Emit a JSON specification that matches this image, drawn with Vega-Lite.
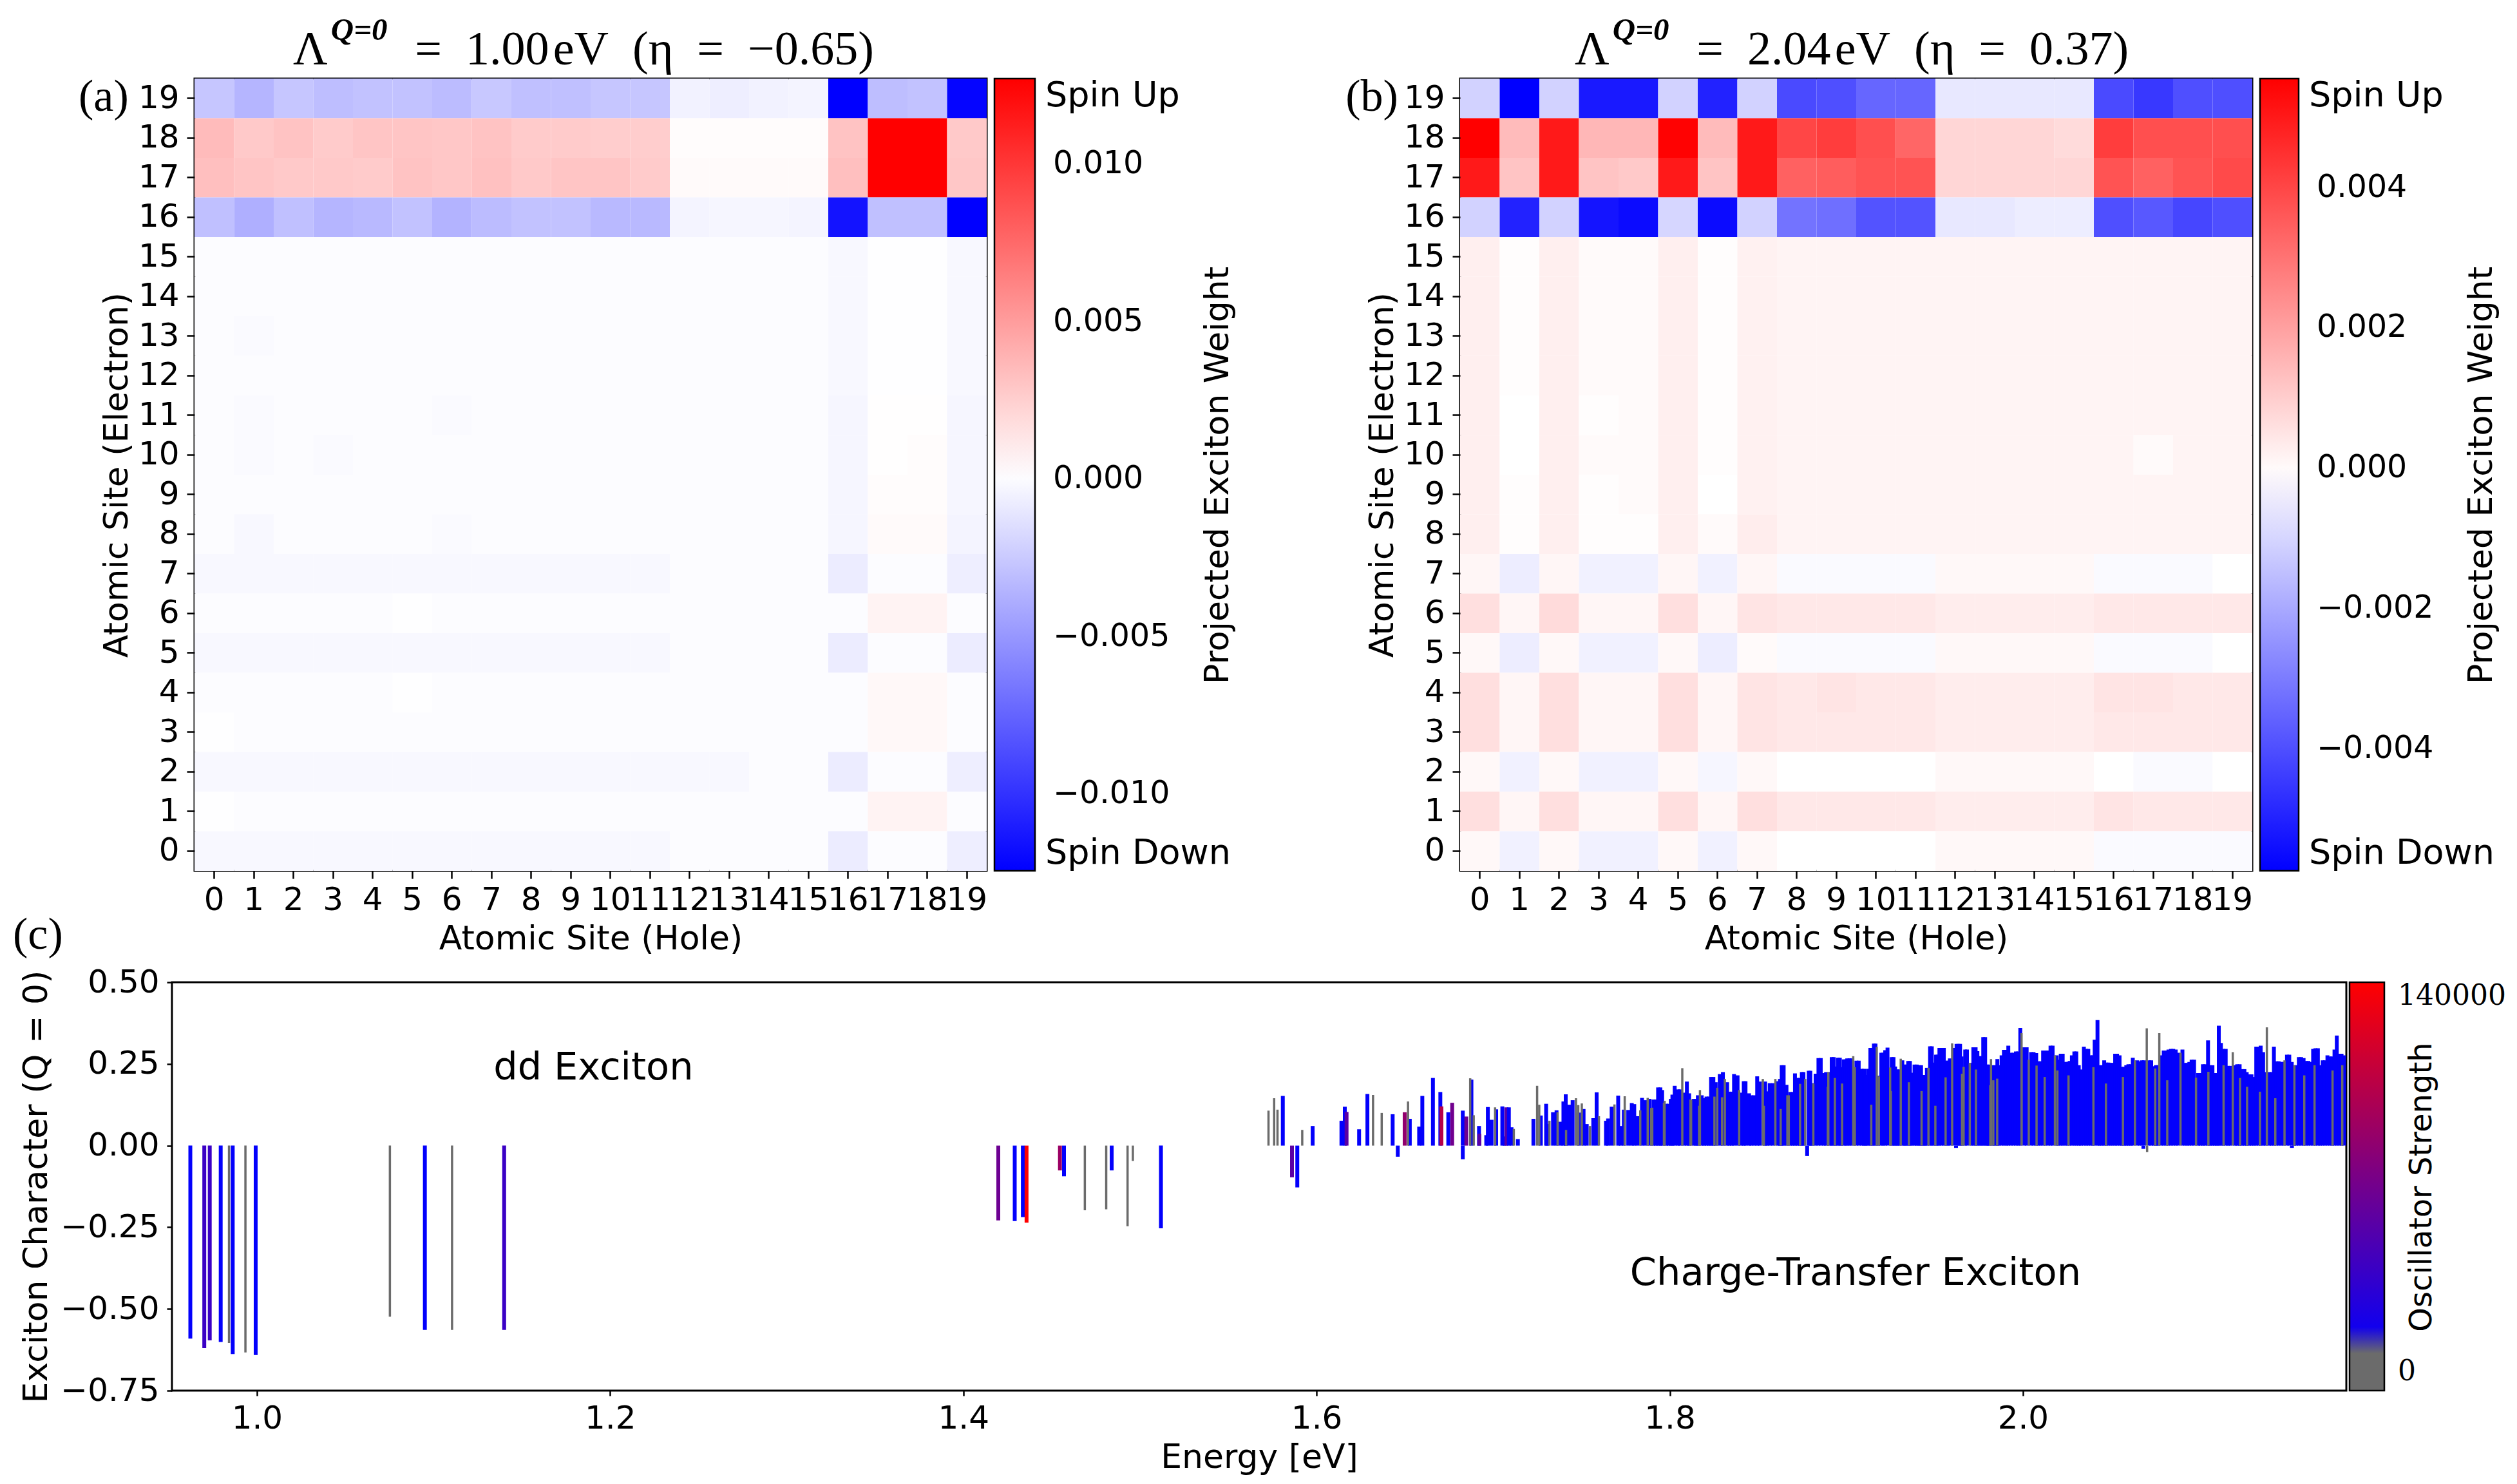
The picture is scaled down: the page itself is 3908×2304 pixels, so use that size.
{
"$schema":"https://vega.github.io/schema/vega-lite/v6.json",
"background":"white",
"padding":{"left":18,"top":21,"right":0,"bottom":0},
"config":{
"font":"DejaVu Sans",
"view":{"stroke":"black","strokeWidth":3},
"axis":{"labelFontSize":50,"titleFontSize":52,"titleFontWeight":"normal","labelColor":"black","titleColor":"black","tickColor":"black","tickWidth":2.5,"domain":false,"grid":false,"labelOverlap":false,"labelFlush":false},
"legend":{"labelFontSize":50,"titleFontSize":52,"titleFontWeight":"normal","labelColor":"black","titleColor":"black","gradientStrokeColor":"black","gradientStrokeWidth":2.5,"padding":0,"labelLimit":0,"titleLimit":0,"labelOverlap":false},
"title":{"font":"Liberation Serif","fontSize":74,"fontWeight":"normal","color":"black","subtitleColor":"black"}
},
"datasets":{
"ha":[
{"x":0,"y":19,"v":-0.0027},{"x":1,"y":19,"v":-0.0035},{"x":2,"y":19,"v":-0.0027},{"x":3,"y":19,"v":-0.0031},{"x":4,"y":19,"v":-0.0029},{"x":5,"y":19,"v":-0.0029},{"x":6,"y":19,"v":-0.0032},{"x":7,"y":19,"v":-0.0026},{"x":8,"y":19,"v":-0.003},{"x":9,"y":19,"v":-0.003},{"x":10,"y":19,"v":-0.0027},{"x":11,"y":19,"v":-0.0027},{"x":12,"y":19,"v":-0.0005},{"x":13,"y":19,"v":-0.0007},{"x":14,"y":19,"v":-0.0005},{"x":15,"y":19,"v":-0.0004},{"x":16,"y":19,"v":-0.0135},{"x":17,"y":19,"v":-0.0031},{"x":18,"y":19,"v":-0.0029},{"x":19,"y":19,"v":-0.0122},
{"x":0,"y":18,"v":0.0035},{"x":1,"y":18,"v":0.0028},{"x":2,"y":18,"v":0.0031},{"x":3,"y":18,"v":0.0027},{"x":4,"y":18,"v":0.003},{"x":5,"y":18,"v":0.003},{"x":6,"y":18,"v":0.0029},{"x":7,"y":18,"v":0.0031},{"x":8,"y":18,"v":0.0027},{"x":9,"y":18,"v":0.0027},{"x":10,"y":18,"v":0.0026},{"x":11,"y":18,"v":0.0026},{"x":12,"y":18,"v":0.0003},{"x":13,"y":18,"v":0.0003},{"x":14,"y":18,"v":0.0003},{"x":15,"y":18,"v":0.0003},{"x":16,"y":18,"v":0.0031},{"x":17,"y":18,"v":0.0135},{"x":18,"y":18,"v":0.0135},{"x":19,"y":18,"v":0.0028},
{"x":0,"y":17,"v":0.0033},{"x":1,"y":17,"v":0.003},{"x":2,"y":17,"v":0.0028},{"x":3,"y":17,"v":0.0028},{"x":4,"y":17,"v":0.0027},{"x":5,"y":17,"v":0.0031},{"x":6,"y":17,"v":0.0029},{"x":7,"y":17,"v":0.0032},{"x":8,"y":17,"v":0.0028},{"x":9,"y":17,"v":0.003},{"x":10,"y":17,"v":0.003},{"x":11,"y":17,"v":0.0027},{"x":12,"y":17,"v":0.0004},{"x":13,"y":17,"v":0.0004},{"x":14,"y":17,"v":0.0004},{"x":15,"y":17,"v":0.0004},{"x":16,"y":17,"v":0.0033},{"x":17,"y":17,"v":0.0135},{"x":18,"y":17,"v":0.0135},{"x":19,"y":17,"v":0.0029},
{"x":0,"y":16,"v":-0.003},{"x":1,"y":16,"v":-0.0038},{"x":2,"y":16,"v":-0.003},{"x":3,"y":16,"v":-0.0035},{"x":4,"y":16,"v":-0.0033},{"x":5,"y":16,"v":-0.0029},{"x":6,"y":16,"v":-0.0036},{"x":7,"y":16,"v":-0.0032},{"x":8,"y":16,"v":-0.0029},{"x":9,"y":16,"v":-0.0029},{"x":10,"y":16,"v":-0.0033},{"x":11,"y":16,"v":-0.0033},{"x":12,"y":16,"v":-0.0004},{"x":13,"y":16,"v":-0.0003},{"x":14,"y":16,"v":-0.0003},{"x":15,"y":16,"v":-0.0004},{"x":16,"y":16,"v":-0.0115},{"x":17,"y":16,"v":-0.003},{"x":18,"y":16,"v":-0.003},{"x":19,"y":16,"v":-0.0135},
{"x":0,"y":15,"v":0},{"x":1,"y":15,"v":0},{"x":2,"y":15,"v":0},{"x":3,"y":15,"v":0},{"x":4,"y":15,"v":0},{"x":5,"y":15,"v":0},{"x":6,"y":15,"v":0},{"x":7,"y":15,"v":0},{"x":8,"y":15,"v":0},{"x":9,"y":15,"v":0},{"x":10,"y":15,"v":0},{"x":11,"y":15,"v":0},{"x":12,"y":15,"v":0},{"x":13,"y":15,"v":0},{"x":14,"y":15,"v":0},{"x":15,"y":15,"v":0},{"x":16,"y":15,"v":-0.0002},{"x":17,"y":15,"v":0.0001},{"x":18,"y":15,"v":0.0001},{"x":19,"y":15,"v":-0.0002},
{"x":0,"y":14,"v":0},{"x":1,"y":14,"v":0},{"x":2,"y":14,"v":0},{"x":3,"y":14,"v":0},{"x":4,"y":14,"v":0},{"x":5,"y":14,"v":0},{"x":6,"y":14,"v":0},{"x":7,"y":14,"v":0},{"x":8,"y":14,"v":0},{"x":9,"y":14,"v":0},{"x":10,"y":14,"v":0},{"x":11,"y":14,"v":0},{"x":12,"y":14,"v":0},{"x":13,"y":14,"v":0},{"x":14,"y":14,"v":0},{"x":15,"y":14,"v":0},{"x":16,"y":14,"v":-0.0002},{"x":17,"y":14,"v":0.0001},{"x":18,"y":14,"v":0.0001},{"x":19,"y":14,"v":-0.0002},
{"x":0,"y":13,"v":0},{"x":1,"y":13,"v":-0.0001},{"x":2,"y":13,"v":0},{"x":3,"y":13,"v":0},{"x":4,"y":13,"v":0},{"x":5,"y":13,"v":0},{"x":6,"y":13,"v":0},{"x":7,"y":13,"v":0},{"x":8,"y":13,"v":0},{"x":9,"y":13,"v":0},{"x":10,"y":13,"v":0},{"x":11,"y":13,"v":0},{"x":12,"y":13,"v":0},{"x":13,"y":13,"v":0},{"x":14,"y":13,"v":0},{"x":15,"y":13,"v":0},{"x":16,"y":13,"v":-0.0002},{"x":17,"y":13,"v":0.0001},{"x":18,"y":13,"v":0.0001},{"x":19,"y":13,"v":-0.0002},
{"x":0,"y":12,"v":0},{"x":1,"y":12,"v":0},{"x":2,"y":12,"v":0},{"x":3,"y":12,"v":0},{"x":4,"y":12,"v":0},{"x":5,"y":12,"v":0},{"x":6,"y":12,"v":0},{"x":7,"y":12,"v":0},{"x":8,"y":12,"v":0},{"x":9,"y":12,"v":0},{"x":10,"y":12,"v":0},{"x":11,"y":12,"v":0},{"x":12,"y":12,"v":0},{"x":13,"y":12,"v":0},{"x":14,"y":12,"v":0},{"x":15,"y":12,"v":0},{"x":16,"y":12,"v":-0.0002},{"x":17,"y":12,"v":0.0001},{"x":18,"y":12,"v":0.0001},{"x":19,"y":12,"v":-0.0002},
{"x":0,"y":11,"v":0},{"x":1,"y":11,"v":-0.0001},{"x":2,"y":11,"v":0},{"x":3,"y":11,"v":0},{"x":4,"y":11,"v":0},{"x":5,"y":11,"v":0},{"x":6,"y":11,"v":-0.0001},{"x":7,"y":11,"v":0},{"x":8,"y":11,"v":0},{"x":9,"y":11,"v":0},{"x":10,"y":11,"v":0},{"x":11,"y":11,"v":0},{"x":12,"y":11,"v":0},{"x":13,"y":11,"v":0},{"x":14,"y":11,"v":0},{"x":15,"y":11,"v":0},{"x":16,"y":11,"v":-0.0003},{"x":17,"y":11,"v":0.0002},{"x":18,"y":11,"v":0.0002},{"x":19,"y":11,"v":-0.0003},
{"x":0,"y":10,"v":0},{"x":1,"y":10,"v":-0.0001},{"x":2,"y":10,"v":0},{"x":3,"y":10,"v":-0.0001},{"x":4,"y":10,"v":0},{"x":5,"y":10,"v":0},{"x":6,"y":10,"v":0},{"x":7,"y":10,"v":0},{"x":8,"y":10,"v":0},{"x":9,"y":10,"v":0},{"x":10,"y":10,"v":0},{"x":11,"y":10,"v":0},{"x":12,"y":10,"v":0},{"x":13,"y":10,"v":0},{"x":14,"y":10,"v":0},{"x":15,"y":10,"v":0},{"x":16,"y":10,"v":-0.0003},{"x":17,"y":10,"v":0.0002},{"x":18,"y":10,"v":0.0003},{"x":19,"y":10,"v":-0.0003},
{"x":0,"y":9,"v":0},{"x":1,"y":9,"v":0},{"x":2,"y":9,"v":0},{"x":3,"y":9,"v":0},{"x":4,"y":9,"v":0},{"x":5,"y":9,"v":0},{"x":6,"y":9,"v":0},{"x":7,"y":9,"v":0},{"x":8,"y":9,"v":0},{"x":9,"y":9,"v":0},{"x":10,"y":9,"v":0},{"x":11,"y":9,"v":0},{"x":12,"y":9,"v":0},{"x":13,"y":9,"v":0},{"x":14,"y":9,"v":0},{"x":15,"y":9,"v":0},{"x":16,"y":9,"v":-0.0003},{"x":17,"y":9,"v":0.0003},{"x":18,"y":9,"v":0.0003},{"x":19,"y":9,"v":-0.0003},
{"x":0,"y":8,"v":0},{"x":1,"y":8,"v":-0.0002},{"x":2,"y":8,"v":0},{"x":3,"y":8,"v":0},{"x":4,"y":8,"v":0},{"x":5,"y":8,"v":0},{"x":6,"y":8,"v":-0.0001},{"x":7,"y":8,"v":0},{"x":8,"y":8,"v":0},{"x":9,"y":8,"v":0},{"x":10,"y":8,"v":0},{"x":11,"y":8,"v":0},{"x":12,"y":8,"v":0},{"x":13,"y":8,"v":0},{"x":14,"y":8,"v":0},{"x":15,"y":8,"v":0},{"x":16,"y":8,"v":-0.0003},{"x":17,"y":8,"v":0.0004},{"x":18,"y":8,"v":0.0004},{"x":19,"y":8,"v":-0.0004},
{"x":0,"y":7,"v":-0.0002},{"x":1,"y":7,"v":-0.0002},{"x":2,"y":7,"v":-0.0002},{"x":3,"y":7,"v":-0.0002},{"x":4,"y":7,"v":-0.0002},{"x":5,"y":7,"v":-0.0002},{"x":6,"y":7,"v":-0.0002},{"x":7,"y":7,"v":-0.0002},{"x":8,"y":7,"v":-0.0002},{"x":9,"y":7,"v":-0.0002},{"x":10,"y":7,"v":-0.0002},{"x":11,"y":7,"v":-0.0002},{"x":12,"y":7,"v":0},{"x":13,"y":7,"v":0},{"x":14,"y":7,"v":0},{"x":15,"y":7,"v":0},{"x":16,"y":7,"v":-0.0008},{"x":17,"y":7,"v":0},{"x":18,"y":7,"v":0},{"x":19,"y":7,"v":-0.0007},
{"x":0,"y":6,"v":0},{"x":1,"y":6,"v":0},{"x":2,"y":6,"v":0},{"x":3,"y":6,"v":0},{"x":4,"y":6,"v":0},{"x":5,"y":6,"v":0.0001},{"x":6,"y":6,"v":0},{"x":7,"y":6,"v":0},{"x":8,"y":6,"v":0},{"x":9,"y":6,"v":0},{"x":10,"y":6,"v":0},{"x":11,"y":6,"v":0},{"x":12,"y":6,"v":0},{"x":13,"y":6,"v":0},{"x":14,"y":6,"v":0},{"x":15,"y":6,"v":0},{"x":16,"y":6,"v":0},{"x":17,"y":6,"v":0.0007},{"x":18,"y":6,"v":0.0007},{"x":19,"y":6,"v":0},
{"x":0,"y":5,"v":-0.0002},{"x":1,"y":5,"v":-0.0002},{"x":2,"y":5,"v":-0.0002},{"x":3,"y":5,"v":-0.0002},{"x":4,"y":5,"v":-0.0002},{"x":5,"y":5,"v":-0.0002},{"x":6,"y":5,"v":-0.0002},{"x":7,"y":5,"v":-0.0002},{"x":8,"y":5,"v":-0.0002},{"x":9,"y":5,"v":-0.0002},{"x":10,"y":5,"v":-0.0002},{"x":11,"y":5,"v":-0.0002},{"x":12,"y":5,"v":0},{"x":13,"y":5,"v":0},{"x":14,"y":5,"v":0},{"x":15,"y":5,"v":0},{"x":16,"y":5,"v":-0.0008},{"x":17,"y":5,"v":0},{"x":18,"y":5,"v":0},{"x":19,"y":5,"v":-0.0008},
{"x":0,"y":4,"v":0},{"x":1,"y":4,"v":0},{"x":2,"y":4,"v":0},{"x":3,"y":4,"v":0},{"x":4,"y":4,"v":0},{"x":5,"y":4,"v":0.0001},{"x":6,"y":4,"v":0},{"x":7,"y":4,"v":0},{"x":8,"y":4,"v":0},{"x":9,"y":4,"v":0},{"x":10,"y":4,"v":0},{"x":11,"y":4,"v":0},{"x":12,"y":4,"v":0},{"x":13,"y":4,"v":0},{"x":14,"y":4,"v":0},{"x":15,"y":4,"v":0},{"x":16,"y":4,"v":0},{"x":17,"y":4,"v":0.0005},{"x":18,"y":4,"v":0.0005},{"x":19,"y":4,"v":0},
{"x":0,"y":3,"v":0.0001},{"x":1,"y":3,"v":0},{"x":2,"y":3,"v":0},{"x":3,"y":3,"v":0},{"x":4,"y":3,"v":0},{"x":5,"y":3,"v":0},{"x":6,"y":3,"v":0},{"x":7,"y":3,"v":0},{"x":8,"y":3,"v":0},{"x":9,"y":3,"v":0},{"x":10,"y":3,"v":0},{"x":11,"y":3,"v":0},{"x":12,"y":3,"v":0},{"x":13,"y":3,"v":0},{"x":14,"y":3,"v":0},{"x":15,"y":3,"v":0},{"x":16,"y":3,"v":0},{"x":17,"y":3,"v":0.0005},{"x":18,"y":3,"v":0.0005},{"x":19,"y":3,"v":0},
{"x":0,"y":2,"v":-0.0002},{"x":1,"y":2,"v":-0.0002},{"x":2,"y":2,"v":-0.0002},{"x":3,"y":2,"v":-0.0002},{"x":4,"y":2,"v":-0.0002},{"x":5,"y":2,"v":-0.0002},{"x":6,"y":2,"v":-0.0002},{"x":7,"y":2,"v":-0.0002},{"x":8,"y":2,"v":-0.0002},{"x":9,"y":2,"v":-0.0002},{"x":10,"y":2,"v":-0.0002},{"x":11,"y":2,"v":-0.0002},{"x":12,"y":2,"v":-0.0002},{"x":13,"y":2,"v":-0.0002},{"x":14,"y":2,"v":0},{"x":15,"y":2,"v":0},{"x":16,"y":2,"v":-0.0008},{"x":17,"y":2,"v":0},{"x":18,"y":2,"v":0},{"x":19,"y":2,"v":-0.0007},
{"x":0,"y":1,"v":0.0001},{"x":1,"y":1,"v":0},{"x":2,"y":1,"v":0},{"x":3,"y":1,"v":0},{"x":4,"y":1,"v":0},{"x":5,"y":1,"v":0},{"x":6,"y":1,"v":0},{"x":7,"y":1,"v":0},{"x":8,"y":1,"v":0},{"x":9,"y":1,"v":0},{"x":10,"y":1,"v":0},{"x":11,"y":1,"v":0},{"x":12,"y":1,"v":0},{"x":13,"y":1,"v":0},{"x":14,"y":1,"v":0},{"x":15,"y":1,"v":0},{"x":16,"y":1,"v":0},{"x":17,"y":1,"v":0.0007},{"x":18,"y":1,"v":0.0007},{"x":19,"y":1,"v":0},
{"x":0,"y":0,"v":-0.0002},{"x":1,"y":0,"v":-0.0002},{"x":2,"y":0,"v":-0.0002},{"x":3,"y":0,"v":-0.0002},{"x":4,"y":0,"v":-0.0002},{"x":5,"y":0,"v":-0.0002},{"x":6,"y":0,"v":-0.0002},{"x":7,"y":0,"v":-0.0002},{"x":8,"y":0,"v":-0.0002},{"x":9,"y":0,"v":-0.0002},{"x":10,"y":0,"v":-0.0002},{"x":11,"y":0,"v":-0.0002},{"x":12,"y":0,"v":0},{"x":13,"y":0,"v":0},{"x":14,"y":0,"v":0},{"x":15,"y":0,"v":0},{"x":16,"y":0,"v":-0.0008},{"x":17,"y":0,"v":0},{"x":18,"y":0,"v":0},{"x":19,"y":0,"v":-0.0007}
],
"hb":[
{"x":0,"y":19,"v":-0.0011},{"x":1,"y":19,"v":-0.006},{"x":2,"y":19,"v":-0.0011},{"x":3,"y":19,"v":-0.0052},{"x":4,"y":19,"v":-0.0052},{"x":5,"y":19,"v":-0.0011},{"x":6,"y":19,"v":-0.005},{"x":7,"y":19,"v":-0.0011},{"x":8,"y":19,"v":-0.0041},{"x":9,"y":19,"v":-0.004},{"x":10,"y":19,"v":-0.0035},{"x":11,"y":19,"v":-0.0035},{"x":12,"y":19,"v":-0.0006},{"x":13,"y":19,"v":-0.0006},{"x":14,"y":19,"v":-0.0006},{"x":15,"y":19,"v":-0.0006},{"x":16,"y":19,"v":-0.0041},{"x":17,"y":19,"v":-0.0045},{"x":18,"y":19,"v":-0.004},{"x":19,"y":19,"v":-0.004},
{"x":0,"y":18,"v":0.0058},{"x":1,"y":18,"v":0.0014},{"x":2,"y":18,"v":0.005},{"x":3,"y":18,"v":0.0015},{"x":4,"y":18,"v":0.0015},{"x":5,"y":18,"v":0.0055},{"x":6,"y":18,"v":0.0014},{"x":7,"y":18,"v":0.005},{"x":8,"y":18,"v":0.004},{"x":9,"y":18,"v":0.0042},{"x":10,"y":18,"v":0.0038},{"x":11,"y":18,"v":0.0033},{"x":12,"y":18,"v":0.0008},{"x":13,"y":18,"v":0.0008},{"x":14,"y":18,"v":0.0008},{"x":15,"y":18,"v":0.0007},{"x":16,"y":18,"v":0.0042},{"x":17,"y":18,"v":0.0038},{"x":18,"y":18,"v":0.0038},{"x":19,"y":18,"v":0.0038},
{"x":0,"y":17,"v":0.005},{"x":1,"y":17,"v":0.0012},{"x":2,"y":17,"v":0.005},{"x":3,"y":17,"v":0.0012},{"x":4,"y":17,"v":0.0011},{"x":5,"y":17,"v":0.005},{"x":6,"y":17,"v":0.0012},{"x":7,"y":17,"v":0.005},{"x":8,"y":17,"v":0.0034},{"x":9,"y":17,"v":0.0035},{"x":10,"y":17,"v":0.0037},{"x":11,"y":17,"v":0.0037},{"x":12,"y":17,"v":0.0008},{"x":13,"y":17,"v":0.0008},{"x":14,"y":17,"v":0.0008},{"x":15,"y":17,"v":0.0008},{"x":16,"y":17,"v":0.0037},{"x":17,"y":17,"v":0.0034},{"x":18,"y":17,"v":0.0037},{"x":19,"y":17,"v":0.0039},
{"x":0,"y":16,"v":-0.0011},{"x":1,"y":16,"v":-0.005},{"x":2,"y":16,"v":-0.0011},{"x":3,"y":16,"v":-0.0053},{"x":4,"y":16,"v":-0.0055},{"x":5,"y":16,"v":-0.001},{"x":6,"y":16,"v":-0.0055},{"x":7,"y":16,"v":-0.0011},{"x":8,"y":16,"v":-0.0032},{"x":9,"y":16,"v":-0.0033},{"x":10,"y":16,"v":-0.0039},{"x":11,"y":16,"v":-0.0039},{"x":12,"y":16,"v":-0.0006},{"x":13,"y":16,"v":-0.0006},{"x":14,"y":16,"v":-0.0005},{"x":15,"y":16,"v":-0.0005},{"x":16,"y":16,"v":-0.004},{"x":17,"y":16,"v":-0.0038},{"x":18,"y":16,"v":-0.0042},{"x":19,"y":16,"v":-0.004},
{"x":0,"y":15,"v":0.00025},{"x":1,"y":15,"v":-0.00005},{"x":2,"y":15,"v":0.00025},{"x":3,"y":15,"v":0},{"x":4,"y":15,"v":0},{"x":5,"y":15,"v":0.00025},{"x":6,"y":15,"v":-0.00005},{"x":7,"y":15,"v":0.0002},{"x":8,"y":15,"v":0.00015},{"x":9,"y":15,"v":0.00015},{"x":10,"y":15,"v":0.00015},{"x":11,"y":15,"v":0.00015},{"x":12,"y":15,"v":0.00015},{"x":13,"y":15,"v":0.00015},{"x":14,"y":15,"v":0.00015},{"x":15,"y":15,"v":0.00015},{"x":16,"y":15,"v":0.00015},{"x":17,"y":15,"v":0.00015},{"x":18,"y":15,"v":0.00015},{"x":19,"y":15,"v":0.00015},
{"x":0,"y":14,"v":0.00025},{"x":1,"y":14,"v":-0.00005},{"x":2,"y":14,"v":0.00025},{"x":3,"y":14,"v":0},{"x":4,"y":14,"v":0},{"x":5,"y":14,"v":0.00025},{"x":6,"y":14,"v":-0.00005},{"x":7,"y":14,"v":0.0002},{"x":8,"y":14,"v":0.00015},{"x":9,"y":14,"v":0.00015},{"x":10,"y":14,"v":0.00015},{"x":11,"y":14,"v":0.00015},{"x":12,"y":14,"v":0.00015},{"x":13,"y":14,"v":0.00015},{"x":14,"y":14,"v":0.00015},{"x":15,"y":14,"v":0.00015},{"x":16,"y":14,"v":0.00015},{"x":17,"y":14,"v":0.00015},{"x":18,"y":14,"v":0.00015},{"x":19,"y":14,"v":0.00015},
{"x":0,"y":13,"v":0.00025},{"x":1,"y":13,"v":-0.00005},{"x":2,"y":13,"v":0.00025},{"x":3,"y":13,"v":0},{"x":4,"y":13,"v":0},{"x":5,"y":13,"v":0.00025},{"x":6,"y":13,"v":-0.00005},{"x":7,"y":13,"v":0.0002},{"x":8,"y":13,"v":0.00015},{"x":9,"y":13,"v":0.00015},{"x":10,"y":13,"v":0.00015},{"x":11,"y":13,"v":0.00015},{"x":12,"y":13,"v":0.00015},{"x":13,"y":13,"v":0.00015},{"x":14,"y":13,"v":0.00015},{"x":15,"y":13,"v":0.00015},{"x":16,"y":13,"v":0.00015},{"x":17,"y":13,"v":0.00015},{"x":18,"y":13,"v":0.00015},{"x":19,"y":13,"v":0.00015},
{"x":0,"y":12,"v":0.00025},{"x":1,"y":12,"v":-0.00005},{"x":2,"y":12,"v":0.00025},{"x":3,"y":12,"v":0},{"x":4,"y":12,"v":0},{"x":5,"y":12,"v":0.00025},{"x":6,"y":12,"v":-0.00005},{"x":7,"y":12,"v":0.0002},{"x":8,"y":12,"v":0.00015},{"x":9,"y":12,"v":0.00015},{"x":10,"y":12,"v":0.00015},{"x":11,"y":12,"v":0.00015},{"x":12,"y":12,"v":0.00015},{"x":13,"y":12,"v":0.00015},{"x":14,"y":12,"v":0.00015},{"x":15,"y":12,"v":0.00015},{"x":16,"y":12,"v":0.00015},{"x":17,"y":12,"v":0.00015},{"x":18,"y":12,"v":0.00015},{"x":19,"y":12,"v":0.00015},
{"x":0,"y":11,"v":0.00025},{"x":1,"y":11,"v":-0.0001},{"x":2,"y":11,"v":0.00025},{"x":3,"y":11,"v":-0.00005},{"x":4,"y":11,"v":0},{"x":5,"y":11,"v":0.00025},{"x":6,"y":11,"v":-0.00005},{"x":7,"y":11,"v":0.0002},{"x":8,"y":11,"v":0.00015},{"x":9,"y":11,"v":0.00015},{"x":10,"y":11,"v":0.00015},{"x":11,"y":11,"v":0.00015},{"x":12,"y":11,"v":0.00015},{"x":13,"y":11,"v":0.00015},{"x":14,"y":11,"v":0.00015},{"x":15,"y":11,"v":0.00015},{"x":16,"y":11,"v":0.00015},{"x":17,"y":11,"v":0.00015},{"x":18,"y":11,"v":0.00015},{"x":19,"y":11,"v":0.00015},
{"x":0,"y":10,"v":0.00025},{"x":1,"y":10,"v":-0.0001},{"x":2,"y":10,"v":0.00025},{"x":3,"y":10,"v":0},{"x":4,"y":10,"v":0},{"x":5,"y":10,"v":0.00025},{"x":6,"y":10,"v":-0.00005},{"x":7,"y":10,"v":0.0002},{"x":8,"y":10,"v":0.00015},{"x":9,"y":10,"v":0.00015},{"x":10,"y":10,"v":0.00015},{"x":11,"y":10,"v":0.00015},{"x":12,"y":10,"v":0.00015},{"x":13,"y":10,"v":0.00015},{"x":14,"y":10,"v":0.00015},{"x":15,"y":10,"v":0.00015},{"x":16,"y":10,"v":0.00015},{"x":17,"y":10,"v":0},{"x":18,"y":10,"v":0.00015},{"x":19,"y":10,"v":0.00015},
{"x":0,"y":9,"v":0.00025},{"x":1,"y":9,"v":-0.00005},{"x":2,"y":9,"v":0.00025},{"x":3,"y":9,"v":-0.00005},{"x":4,"y":9,"v":0},{"x":5,"y":9,"v":0.00025},{"x":6,"y":9,"v":-0.0001},{"x":7,"y":9,"v":0.0002},{"x":8,"y":9,"v":0.00015},{"x":9,"y":9,"v":0.00015},{"x":10,"y":9,"v":0.00015},{"x":11,"y":9,"v":0.00015},{"x":12,"y":9,"v":0.00015},{"x":13,"y":9,"v":0.00015},{"x":14,"y":9,"v":0.00015},{"x":15,"y":9,"v":0.00015},{"x":16,"y":9,"v":0.00015},{"x":17,"y":9,"v":0.00015},{"x":18,"y":9,"v":0.00015},{"x":19,"y":9,"v":0.00015},
{"x":0,"y":8,"v":0.00025},{"x":1,"y":8,"v":-0.00005},{"x":2,"y":8,"v":0.00025},{"x":3,"y":8,"v":-0.00005},{"x":4,"y":8,"v":-0.00005},{"x":5,"y":8,"v":0.00025},{"x":6,"y":8,"v":0},{"x":7,"y":8,"v":0.0003},{"x":8,"y":8,"v":0.00015},{"x":9,"y":8,"v":0.00015},{"x":10,"y":8,"v":0.00015},{"x":11,"y":8,"v":0.00015},{"x":12,"y":8,"v":0.00015},{"x":13,"y":8,"v":0.00015},{"x":14,"y":8,"v":0.00015},{"x":15,"y":8,"v":0.00015},{"x":16,"y":8,"v":0.00015},{"x":17,"y":8,"v":0.00015},{"x":18,"y":8,"v":0.00015},{"x":19,"y":8,"v":0.00015},
{"x":0,"y":7,"v":0.0001},{"x":1,"y":7,"v":-0.0005},{"x":2,"y":7,"v":0.0001},{"x":3,"y":7,"v":-0.0004},{"x":4,"y":7,"v":-0.0004},{"x":5,"y":7,"v":0.0001},{"x":6,"y":7,"v":-0.0004},{"x":7,"y":7,"v":0.0001},{"x":8,"y":7,"v":-0.0002},{"x":9,"y":7,"v":-0.0002},{"x":10,"y":7,"v":-0.0002},{"x":11,"y":7,"v":-0.0002},{"x":12,"y":7,"v":0.00005},{"x":13,"y":7,"v":0.00005},{"x":14,"y":7,"v":0.00005},{"x":15,"y":7,"v":0.00005},{"x":16,"y":7,"v":-0.0002},{"x":17,"y":7,"v":-0.0002},{"x":18,"y":7,"v":-0.0002},{"x":19,"y":7,"v":-0.0001},
{"x":0,"y":6,"v":0.0006},{"x":1,"y":6,"v":0.0001},{"x":2,"y":6,"v":0.0007},{"x":3,"y":6,"v":0.0001},{"x":4,"y":6,"v":0.0001},{"x":5,"y":6,"v":0.0006},{"x":6,"y":6,"v":0.0001},{"x":7,"y":6,"v":0.0005},{"x":8,"y":6,"v":0.0004},{"x":9,"y":6,"v":0.0004},{"x":10,"y":6,"v":0.0004},{"x":11,"y":6,"v":0.0004},{"x":12,"y":6,"v":0.0003},{"x":13,"y":6,"v":0.0003},{"x":14,"y":6,"v":0.0003},{"x":15,"y":6,"v":0.0003},{"x":16,"y":6,"v":0.0004},{"x":17,"y":6,"v":0.0004},{"x":18,"y":6,"v":0.0004},{"x":19,"y":6,"v":0.0004},
{"x":0,"y":5,"v":0.00005},{"x":1,"y":5,"v":-0.0005},{"x":2,"y":5,"v":0.00005},{"x":3,"y":5,"v":-0.0004},{"x":4,"y":5,"v":-0.0004},{"x":5,"y":5,"v":0.00005},{"x":6,"y":5,"v":-0.0005},{"x":7,"y":5,"v":0},{"x":8,"y":5,"v":-0.0002},{"x":9,"y":5,"v":-0.0002},{"x":10,"y":5,"v":-0.0002},{"x":11,"y":5,"v":-0.0002},{"x":12,"y":5,"v":0.00005},{"x":13,"y":5,"v":0.00005},{"x":14,"y":5,"v":0.00005},{"x":15,"y":5,"v":0.00005},{"x":16,"y":5,"v":-0.0002},{"x":17,"y":5,"v":-0.0002},{"x":18,"y":5,"v":-0.0002},{"x":19,"y":5,"v":-0.0001},
{"x":0,"y":4,"v":0.0006},{"x":1,"y":4,"v":0.0001},{"x":2,"y":4,"v":0.0006},{"x":3,"y":4,"v":0.0001},{"x":4,"y":4,"v":0.0001},{"x":5,"y":4,"v":0.0006},{"x":6,"y":4,"v":0.0001},{"x":7,"y":4,"v":0.0005},{"x":8,"y":4,"v":0.0004},{"x":9,"y":4,"v":0.0005},{"x":10,"y":4,"v":0.0004},{"x":11,"y":4,"v":0.0004},{"x":12,"y":4,"v":0.0003},{"x":13,"y":4,"v":0.0003},{"x":14,"y":4,"v":0.0003},{"x":15,"y":4,"v":0.0003},{"x":16,"y":4,"v":0.0005},{"x":17,"y":4,"v":0.0005},{"x":18,"y":4,"v":0.0004},{"x":19,"y":4,"v":0.0004},
{"x":0,"y":3,"v":0.0006},{"x":1,"y":3,"v":0.0001},{"x":2,"y":3,"v":0.0006},{"x":3,"y":3,"v":0.0001},{"x":4,"y":3,"v":0.0001},{"x":5,"y":3,"v":0.0006},{"x":6,"y":3,"v":0.0001},{"x":7,"y":3,"v":0.0005},{"x":8,"y":3,"v":0.0004},{"x":9,"y":3,"v":0.0004},{"x":10,"y":3,"v":0.0004},{"x":11,"y":3,"v":0.0004},{"x":12,"y":3,"v":0.0003},{"x":13,"y":3,"v":0.0003},{"x":14,"y":3,"v":0.0003},{"x":15,"y":3,"v":0.0003},{"x":16,"y":3,"v":0.0004},{"x":17,"y":3,"v":0.0004},{"x":18,"y":3,"v":0.0004},{"x":19,"y":3,"v":0.0004},
{"x":0,"y":2,"v":0.00005},{"x":1,"y":2,"v":-0.0004},{"x":2,"y":2,"v":0.00005},{"x":3,"y":2,"v":-0.0004},{"x":4,"y":2,"v":-0.0004},{"x":5,"y":2,"v":0.00005},{"x":6,"y":2,"v":-0.0003},{"x":7,"y":2,"v":0.00005},{"x":8,"y":2,"v":-0.0001},{"x":9,"y":2,"v":-0.0001},{"x":10,"y":2,"v":-0.0001},{"x":11,"y":2,"v":-0.0001},{"x":12,"y":2,"v":0.00005},{"x":13,"y":2,"v":0.00005},{"x":14,"y":2,"v":0.00005},{"x":15,"y":2,"v":0.00005},{"x":16,"y":2,"v":-0.0001},{"x":17,"y":2,"v":-0.0002},{"x":18,"y":2,"v":-0.0002},{"x":19,"y":2,"v":-0.0001},
{"x":0,"y":1,"v":0.0006},{"x":1,"y":1,"v":0.0001},{"x":2,"y":1,"v":0.0006},{"x":3,"y":1,"v":0.0001},{"x":4,"y":1,"v":0.0001},{"x":5,"y":1,"v":0.0006},{"x":6,"y":1,"v":0.0001},{"x":7,"y":1,"v":0.0006},{"x":8,"y":1,"v":0.0004},{"x":9,"y":1,"v":0.0004},{"x":10,"y":1,"v":0.0004},{"x":11,"y":1,"v":0.0004},{"x":12,"y":1,"v":0.0003},{"x":13,"y":1,"v":0.0003},{"x":14,"y":1,"v":0.0003},{"x":15,"y":1,"v":0.0003},{"x":16,"y":1,"v":0.0005},{"x":17,"y":1,"v":0.0004},{"x":18,"y":1,"v":0.0004},{"x":19,"y":1,"v":0.0004},
{"x":0,"y":0,"v":0.00005},{"x":1,"y":0,"v":-0.0004},{"x":2,"y":0,"v":0.00005},{"x":3,"y":0,"v":-0.0004},{"x":4,"y":0,"v":-0.0004},{"x":5,"y":0,"v":0.00005},{"x":6,"y":0,"v":-0.0004},{"x":7,"y":0,"v":0.00005},{"x":8,"y":0,"v":-0.0001},{"x":9,"y":0,"v":-0.0001},{"x":10,"y":0,"v":-0.0001},{"x":11,"y":0,"v":-0.0001},{"x":12,"y":0,"v":0.00005},{"x":13,"y":0,"v":0.00005},{"x":14,"y":0,"v":0.00005},{"x":15,"y":0,"v":0.00005},{"x":16,"y":0,"v":-0.0002},{"x":17,"y":0,"v":-0.0002},{"x":18,"y":0,"v":-0.0002},{"x":19,"y":0,"v":-0.0002}
],
"bars":[
{"e":0.9623,"c":-0.591,"os":1500},{"e":0.9702,"c":-0.62,"os":32000},{"e":0.9733,"c":-0.596,"os":32000},{"e":0.9795,"c":-0.601,"os":1500},{"e":0.9842,"c":-0.604,"os":0},{"e":0.9863,"c":-0.638,"os":1500},{"e":0.9935,"c":-0.633,"os":0},{"e":0.9993,"c":-0.641,"os":1500},{"e":1.0753,"c":-0.524,"os":0},{"e":1.0951,"c":-0.564,"os":1500},{"e":1.1105,"c":-0.564,"os":0},{"e":1.14,"c":-0.564,"os":32000},
{"e":1.4198,"c":-0.229,"os":60000},{"e":1.4291,"c":-0.231,"os":1500},{"e":1.4337,"c":-0.219,"os":1500},{"e":1.4358,"c":-0.236,"os":140000},{"e":1.4547,"c":-0.076,"os":85000},{"e":1.457,"c":-0.094,"os":1500},{"e":1.4688,"c":-0.198,"os":0},{"e":1.4809,"c":-0.195,"os":0},{"e":1.484,"c":-0.076,"os":1500},{"e":1.493,"c":-0.247,"os":0},{"e":1.496,"c":-0.047,"os":0},{"e":1.5119,"c":-0.253,"os":1500},
{"e":1.5728,"c":0.107,"os":0},{"e":1.576,"c":0.145,"os":0},{"e":1.5779,"c":0.11,"os":0},{"e":1.5809,"c":0.152,"os":1500},{"e":1.5861,"c":-0.097,"os":50000},{"e":1.5891,"c":-0.128,"os":1500},{"e":1.5919,"c":0.048,"os":0},{"e":1.5978,"c":0.06,"os":1500},{"e":1.6141,"c":0.076,"os":1500},{"e":1.616,"c":0.119,"os":1500},{"e":1.617,"c":0.103,"os":50000},{"e":1.6241,"c":0.05,"os":1500},{"e":1.6288,"c":0.158,"os":1500},{"e":1.632,"c":0.155,"os":0},{"e":1.6369,"c":0.1,"os":0},{"e":1.6431,"c":0.096,"os":1500},{"e":1.646,"c":-0.034,"os":1500},{"e":1.6499,"c":0.102,"os":80000},{"e":1.6518,"c":0.135,"os":0},{"e":1.6528,"c":0.082,"os":1500},{"e":1.6581,"c":0.058,"os":1500},{"e":1.6599,"c":0.152,"os":1500},{"e":1.6659,"c":0.207,"os":1500},{"e":1.6701,"c":0.164,"os":1500},{"e":1.6707,"c":0.12,"os":100000},{"e":1.6746,"c":0.102,"os":1500},{"e":1.6768,"c":0.131,"os":62000},{"e":1.6828,"c":0.107,"os":1500},{"e":1.6828,"c":-0.042,"os":1500},{"e":1.6848,"c":0.089,"os":60000},{"e":1.687,"c":0.206,"os":0},{"e":1.6877,"c":0.202,"os":1500},{"e":1.689,"c":0.093,"os":0},{"e":1.692,"c":0.06,"os":1500},{"e":1.6922,"c":0.036,"os":50000},{"e":1.6961,"c":0.032,"os":1500},{"e":1.697,"c":0.118,"os":1500},{"e":1.6991,"c":0.079,"os":1500},{"e":1.7011,"c":0.117,"os":0},{"e":1.7017,"c":0.111,"os":1500},{"e":1.7052,"c":0.12,"os":1500},{"e":1.7065,"c":0.028,"os":1500},{"e":1.7075,"c":0.117,"os":50000},{"e":1.7089,"c":0.117,"os":1500},{"e":1.7104,"c":0.056,"os":1500},{"e":1.7117,"c":0.051,"os":0},{"e":1.714,"c":0.02,"os":1500},
{"e":1.7228,"c":0.082,"os":1500},{"e":1.7249,"c":0.183,"os":0},{"e":1.7261,"c":0.125,"os":0},{"e":1.727,"c":0.092,"os":1500},{"e":1.73,"c":0.128,"os":1500},{"e":1.7306,"c":0.066,"os":1500},{"e":1.7319,"c":0.076,"os":0},{"e":1.7339,"c":0.102,"os":1500},{"e":1.7359,"c":0.108,"os":1500},{"e":1.7365,"c":0.102,"os":0},{"e":1.7382,"c":0.073,"os":1500},{"e":1.7398,"c":0.135,"os":1500},{"e":1.7411,"c":0.157,"os":1500},{"e":1.7413,"c":0.048,"os":0},{"e":1.743,"c":0.125,"os":1500},{"e":1.745,"c":0.139,"os":1500},{"e":1.7469,"c":0.145,"os":0},{"e":1.7482,"c":0.124,"os":0},{"e":1.7486,"c":0.101,"os":1500},{"e":1.7502,"c":0.129,"os":0},{"e":1.7512,"c":0.112,"os":1500},{"e":1.753,"c":0.066,"os":1500},{"e":1.7548,"c":0.06,"os":0},{"e":1.7567,"c":0.084,"os":1500},{"e":1.7586,"c":0.163,"os":1500},{"e":1.7599,"c":0.09,"os":0},{"e":1.7639,"c":0.076,"os":1500},{"e":1.7651,"c":0.083,"os":1500},{"e":1.7671,"c":0.119,"os":1500},{"e":1.7687,"c":0.126,"os":0},{"e":1.7708,"c":0.153,"os":1500},{"e":1.7723,"c":0.06,"os":1500},{"e":1.774,"c":0.11,"os":1500},{"e":1.7745,"c":0.151,"os":0},{"e":1.7765,"c":0.109,"os":1500},{"e":1.7785,"c":0.13,"os":1500},{"e":1.7799,"c":0.127,"os":1500},
{"e":1.7817,"c":0.09,"os":1500},{"e":1.7833,"c":0.108,"os":0},{"e":1.7843,"c":0.146,"os":1500},{"e":1.7862,"c":0.139,"os":1500},{"e":1.7875,"c":0.146,"os":0},{"e":1.7885,"c":0.143,"os":1500},{"e":1.7895,"c":0.115,"os":0},{"e":1.7901,"c":0.116,"os":0},{"e":1.7908,"c":0.141,"os":1500},{"e":1.7921,"c":0.141,"os":1500},{"e":1.7934,"c":0.178,"os":1500},{"e":1.7947,"c":0.178,"os":1500},{"e":1.7957,"c":0.17,"os":1500},{"e":1.7967,"c":0.131,"os":0},{"e":1.7971,"c":0.137,"os":0},{"e":1.798,"c":0.128,"os":1500},{"e":1.7993,"c":0.128,"os":1500},{"e":1.8006,"c":0.143,"os":1500},{"e":1.8015,"c":0.156,"os":1500},{"e":1.8028,"c":0.183,"os":1500},{"e":1.8046,"c":0.172,"os":1500},{"e":1.8058,"c":0.172,"os":1500},{"e":1.8071,"c":0.237,"os":0},{"e":1.808,"c":0.162,"os":1500},{"e":1.8097,"c":0.196,"os":1500},{"e":1.811,"c":0.16,"os":1500},{"e":1.8117,"c":0.141,"os":0},{"e":1.8121,"c":0.141,"os":0},{"e":1.8136,"c":0.143,"os":1500},{"e":1.8149,"c":0.143,"os":1500},{"e":1.8159,"c":0.154,"os":1500},{"e":1.8166,"c":0.122,"os":0},{"e":1.8171,"c":0.17,"os":0},{"e":1.8181,"c":0.154,"os":1500},{"e":1.8195,"c":0.145,"os":1500},{"e":1.8208,"c":0.15,"os":1500},{"e":1.8221,"c":0.15,"os":1500},{"e":1.8234,"c":0.21,"os":1500},{"e":1.8247,"c":0.21,"os":1500},{"e":1.8253,"c":0.15,"os":0},{"e":1.826,"c":0.194,"os":1500},{"e":1.8269,"c":0.177,"os":0},{"e":1.8283,"c":0.219,"os":1500},{"e":1.8296,"c":0.148,"os":0},{"e":1.8301,"c":0.225,"os":1500},{"e":1.8312,"c":0.204,"os":0},{"e":1.8325,"c":0.194,"os":1500},{"e":1.8338,"c":0.165,"os":1500},{"e":1.8351,"c":0.165,"os":1500},{"e":1.8364,"c":0.219,"os":1500},{"e":1.8384,"c":0.215,"os":1500},{"e":1.8393,"c":0.17,"os":0},{"e":1.8403,"c":0.162,"os":1500},{"e":1.8419,"c":0.197,"os":1500},{"e":1.8429,"c":0.197,"os":1500},{"e":1.8449,"c":0.16,"os":1500},{"e":1.8462,"c":0.154,"os":1500},{"e":1.8479,"c":0.154,"os":1500},{"e":1.8495,"c":0.212,"os":1500},{"e":1.851,"c":0.196,"os":1500},{"e":1.8527,"c":0.204,"os":0},{"e":1.8533,"c":0.122,"os":0},{"e":1.854,"c":0.196,"os":1500},{"e":1.855,"c":0.166,"os":1500},{"e":1.8566,"c":0.191,"os":1500},{"e":1.8585,"c":0.191,"os":1500},{"e":1.8598,"c":0.204,"os":0},{"e":1.8611,"c":0.197,"os":1500},{"e":1.8624,"c":0.204,"os":1500},{"e":1.8628,"c":0.112,"os":0},{"e":1.8634,"c":0.246,"os":1500},{"e":1.8645,"c":0.246,"os":1500},{"e":1.8661,"c":0.186,"os":1500},{"e":1.8666,"c":0.154,"os":0},{"e":1.8674,"c":0.154,"os":0},{"e":1.8683,"c":0.164,"os":1500},{"e":1.8696,"c":0.164,"os":1500},{"e":1.8709,"c":0.221,"os":1500},{"e":1.8722,"c":0.207,"os":1500},{"e":1.8735,"c":0.207,"os":1500},{"e":1.8738,"c":0.189,"os":0},{"e":1.8748,"c":0.225,"os":1500},{"e":1.8757,"c":0.225,"os":1500},{"e":1.8767,"c":0.204,"os":0},{"e":1.8778,"c":-0.032,"os":1500},{"e":1.8787,"c":0.229,"os":1500},{"e":1.8796,"c":0.229,"os":1500},{"e":1.8807,"c":0.191,"os":1500},{"e":1.8813,"c":0.19,"os":0},{"e":1.8826,"c":0.22,"os":1500},{"e":1.8842,"c":0.268,"os":1500},{"e":1.8855,"c":0.268,"os":1500},{"e":1.8872,"c":0.222,"os":1500},{"e":1.8885,"c":0.225,"os":1500},{"e":1.8895,"c":0.18,"os":0},{"e":1.8898,"c":0.225,"os":0},{"e":1.8908,"c":0.225,"os":1500},{"e":1.8917,"c":0.271,"os":1500},{"e":1.8928,"c":0.271,"os":1500},{"e":1.8935,"c":0.207,"os":0},{"e":1.8939,"c":0.242,"os":1500},{"e":1.8952,"c":0.269,"os":1500},{"e":1.8963,"c":0.269,"os":1500},{"e":1.8972,"c":0.24,"os":1500},{"e":1.8976,"c":0.19,"os":0},{"e":1.8985,"c":0.264,"os":1500},{"e":1.8996,"c":0.264,"os":1500},{"e":1.9005,"c":0.267,"os":1500},{"e":1.9018,"c":0.267,"os":1500},{"e":1.9028,"c":0.267,"os":1500},{"e":1.9039,"c":0.274,"os":0},{"e":1.9045,"c":0.234,"os":0},{"e":1.9048,"c":0.24,"os":0},{"e":1.9057,"c":0.26,"os":1500},{"e":1.907,"c":0.26,"os":1500},{"e":1.9087,"c":0.235,"os":1500},{"e":1.91,"c":0.235,"os":1500},{"e":1.9109,"c":0.216,"os":1500},{"e":1.9122,"c":0.235,"os":1500},{"e":1.9136,"c":0.299,"os":1500},{"e":1.9141,"c":0.125,"os":0},{"e":1.9146,"c":0.299,"os":1500},{"e":1.9156,"c":0.312,"os":1500},{"e":1.9165,"c":0.312,"os":1500},{"e":1.9172,"c":0.302,"os":0},{"e":1.9181,"c":0.214,"os":1500},{"e":1.9184,"c":0.212,"os":0},{"e":1.9198,"c":0.284,"os":1500},{"e":1.9208,"c":0.284,"os":1500},{"e":1.922,"c":0.292,"os":1500},{"e":1.9233,"c":0.3,"os":1500},{"e":1.9248,"c":0.239,"os":0},{"e":1.9252,"c":0.167,"os":0},{"e":1.9257,"c":0.271,"os":1500},{"e":1.9267,"c":0.271,"os":1500},{"e":1.9276,"c":0.242,"os":1500},{"e":1.9289,"c":0.233,"os":1500},{"e":1.9299,"c":0.233,"os":1500},{"e":1.9308,"c":0.266,"os":0},{"e":1.9317,"c":0.261,"os":1500},{"e":1.9328,"c":0.248,"os":1500},{"e":1.9338,"c":0.248,"os":1500},{"e":1.935,"c":0.259,"os":1500},{"e":1.9354,"c":0.194,"os":0},{"e":1.936,"c":0.259,"os":1500},{"e":1.9369,"c":0.223,"os":1500},{"e":1.9386,"c":0.248,"os":1500},{"e":1.9399,"c":0.248,"os":1500},{"e":1.9412,"c":0.246,"os":1500},{"e":1.9423,"c":0.246,"os":1500},{"e":1.9426,"c":0.167,"os":0},{"e":1.9435,"c":0.216,"os":1500},{"e":1.9445,"c":0.216,"os":1500},{"e":1.9456,"c":0.238,"os":1500},{"e":1.9465,"c":0.238,"os":0},{"e":1.9474,"c":0.304,"os":1500},{"e":1.9484,"c":0.304,"os":1500},{"e":1.9495,"c":0.254,"os":1500},{"e":1.9504,"c":0.122,"os":0},{"e":1.9508,"c":0.278,"os":1500},{"e":1.9517,"c":0.278,"os":1500},{"e":1.9527,"c":0.299,"os":1500},{"e":1.9539,"c":0.299,"os":1500},{"e":1.9552,"c":0.299,"os":1500},{"e":1.9562,"c":0.209,"os":0},{"e":1.9565,"c":0.26,"os":1500},{"e":1.9576,"c":0.26,"os":1500},{"e":1.9586,"c":0.267,"os":1500},{"e":1.9599,"c":0.313,"os":0},{"e":1.9608,"c":0.299,"os":1500},{"e":1.9621,"c":-0.007,"os":1500},{"e":1.9624,"c":0.311,"os":1500},{"e":1.9634,"c":0.311,"os":1500},{"e":1.9644,"c":0.311,"os":1500},{"e":1.9653,"c":0.273,"os":1500},{"e":1.9655,"c":0.22,"os":0},{"e":1.9664,"c":0.241,"os":0},{"e":1.9673,"c":0.294,"os":1500},{"e":1.9683,"c":0.294,"os":1500},{"e":1.9699,"c":0.253,"os":0},{"e":1.9708,"c":0.253,"os":1500},{"e":1.9719,"c":0.301,"os":1500},{"e":1.9732,"c":0.301,"os":1500},{"e":1.9734,"c":0.233,"os":0},{"e":1.9742,"c":0.289,"os":1500},{"e":1.9754,"c":0.274,"os":1500},{"e":1.9764,"c":0.274,"os":1500},{"e":1.9775,"c":0.332,"os":1500},{"e":1.9786,"c":0.332,"os":1500},{"e":1.9797,"c":0.248,"os":1500},{"e":1.9807,"c":0.248,"os":1500},{"e":1.9815,"c":0.185,"os":0},{"e":1.9819,"c":0.265,"os":0},{"e":1.9829,"c":0.246,"os":1500},{"e":1.9832,"c":0.2,"os":0},{"e":1.9842,"c":0.246,"os":1500},{"e":1.9854,"c":0.205,"os":0},{"e":1.9855,"c":0.265,"os":1500},
{"e":1.9863,"c":0.246,"os":1500},{"e":1.9879,"c":0.276,"os":1500},{"e":1.9892,"c":0.293,"os":1500},{"e":1.9906,"c":0.293,"os":1500},{"e":1.9917,"c":0.306,"os":1500},{"e":1.9931,"c":0.284,"os":1500},{"e":1.9946,"c":0.284,"os":1500},{"e":1.996,"c":0.288,"os":1500},{"e":1.9973,"c":0.288,"os":1500},{"e":1.9985,"c":0.36,"os":1500},{"e":1.9992,"c":0.344,"os":0},{"e":2.0008,"c":0.301,"os":1500},{"e":2.0021,"c":0.301,"os":1500},{"e":2.0033,"c":0.263,"os":0},{"e":2.0046,"c":0.286,"os":1500},{"e":2.006,"c":0.286,"os":1500},{"e":2.0075,"c":0.283,"os":1500},{"e":2.0077,"c":0.245,"os":0},{"e":2.0089,"c":0.258,"os":1500},{"e":2.01,"c":0.258,"os":1500},{"e":2.0114,"c":0.291,"os":1500},{"e":2.0123,"c":0.21,"os":0},{"e":2.0127,"c":0.291,"os":1500},{"e":2.0143,"c":0.291,"os":1500},{"e":2.0156,"c":0.306,"os":1500},{"e":2.0168,"c":0.306,"os":1500},{"e":2.0181,"c":0.276,"os":0},{"e":2.0191,"c":0.276,"os":1500},{"e":2.0195,"c":0.23,"os":0},{"e":2.02,"c":0.263,"os":1500},{"e":2.0214,"c":0.281,"os":1500},{"e":2.0225,"c":0.281,"os":1500},{"e":2.0239,"c":0.256,"os":1500},{"e":2.0251,"c":0.256,"os":1500},{"e":2.0258,"c":0.215,"os":0},{"e":2.0264,"c":0.259,"os":1500},{"e":2.0277,"c":0.276,"os":1500},{"e":2.0291,"c":0.288,"os":1500},{"e":2.0302,"c":0.288,"os":1500},{"e":2.0316,"c":0.246,"os":1500},{"e":2.0329,"c":0.233,"os":1500},{"e":2.0345,"c":0.303,"os":1500},{"e":2.0358,"c":0.296,"os":1500},{"e":2.037,"c":0.296,"os":1500},{"e":2.0383,"c":0.276,"os":1500},{"e":2.0395,"c":0.276,"os":1500},{"e":2.0399,"c":0.24,"os":0},{"e":2.0406,"c":0.324,"os":1500},{"e":2.0422,"c":0.384,"os":1500},{"e":2.0433,"c":0.246,"os":1500},{"e":2.0447,"c":0.246,"os":1500},{"e":2.046,"c":0.261,"os":1500},{"e":2.047,"c":0.19,"os":0},{"e":2.0472,"c":0.254,"os":1500},{"e":2.0484,"c":0.254,"os":1500},{"e":2.0497,"c":0.253,"os":1500},{"e":2.0508,"c":0.253,"os":1500},{"e":2.0522,"c":0.281,"os":1500},{"e":2.0533,"c":0.281,"os":1500},{"e":2.0547,"c":0.276,"os":1500},{"e":2.0558,"c":0.241,"os":1500},{"e":2.0566,"c":0.21,"os":0},{"e":2.0572,"c":0.241,"os":1500},{"e":2.0585,"c":0.246,"os":1500},{"e":2.0597,"c":0.249,"os":1500},{"e":2.0611,"c":0.249,"os":1500},{"e":2.0622,"c":0.269,"os":1500},{"e":2.0634,"c":0.261,"os":0},{"e":2.0647,"c":0.261,"os":1500},{"e":2.0661,"c":0.258,"os":1500},{"e":2.0674,"c":0.261,"os":1500},{"e":2.0682,"c":-0.01,"os":1500},{"e":2.0686,"c":0.261,"os":1500},{"e":2.0701,"c":0.359,"os":0},{"e":2.0703,"c":-0.02,"os":0},{"e":2.0713,"c":0.261,"os":1500},{"e":2.0726,"c":0.261,"os":1500},{"e":2.074,"c":0.243,"os":1500},{"e":2.0749,"c":0.236,"os":0},{"e":2.0753,"c":0.246,"os":1500},{"e":2.0765,"c":0.246,"os":1500},{"e":2.0772,"c":0.344,"os":0},{"e":2.0784,"c":0.276,"os":1500},{"e":2.0797,"c":0.291,"os":1500},{"e":2.0811,"c":0.291,"os":1500},{"e":2.0817,"c":0.2,"os":0},{"e":2.0824,"c":0.294,"os":1500},{"e":2.0838,"c":0.296,"os":1500},{"e":2.0851,"c":0.296,"os":1500},{"e":2.0865,"c":0.294,"os":1500},{"e":2.0878,"c":0.284,"os":1500},{"e":2.0892,"c":0.284,"os":0},{"e":2.0903,"c":0.294,"os":1500},{"e":2.0917,"c":0.253,"os":1500},{"e":2.093,"c":0.253,"os":1500},{"e":2.0942,"c":0.256,"os":1500},{"e":2.0955,"c":0.263,"os":1500},{"e":2.0969,"c":0.263,"os":1500},{"e":2.098,"c":0.208,"os":0},{"e":2.0992,"c":0.222,"os":1500},{"e":2.1005,"c":0.222,"os":1500},{"e":2.1019,"c":0.249,"os":1500},{"e":2.1032,"c":0.249,"os":1500},{"e":2.1048,"c":0.322,"os":1500},{"e":2.105,"c":0.226,"os":0},{"e":2.1059,"c":0.246,"os":1500},{"e":2.1073,"c":0.246,"os":1500},{"e":2.1086,"c":0.222,"os":1500},{"e":2.1098,"c":0.222,"os":1500},{"e":2.1109,"c":0.367,"os":1500},{"e":2.1121,"c":0.314,"os":1500},{"e":2.1134,"c":0.296,"os":1500},{"e":2.1136,"c":0.246,"os":0},{"e":2.1148,"c":0.296,"os":1500},{"e":2.1161,"c":0.244,"os":1500},{"e":2.1175,"c":0.244,"os":1500},{"e":2.1188,"c":0.286,"os":0},{"e":2.12,"c":0.246,"os":1500},{"e":2.1213,"c":0.249,"os":1500},{"e":2.1227,"c":0.249,"os":1500},{"e":2.1229,"c":0.207,"os":0},{"e":2.124,"c":0.234,"os":1500},{"e":2.1254,"c":0.234,"os":1500},{"e":2.1267,"c":0.225,"os":1500},{"e":2.1269,"c":0.18,"os":0},{"e":2.1281,"c":0.218,"os":1500},{"e":2.1294,"c":0.218,"os":1500},{"e":2.1308,"c":0.21,"os":1500},{"e":2.1321,"c":0.303,"os":1500},{"e":2.1333,"c":0.303,"os":1500},{"e":2.1342,"c":0.165,"os":0},{"e":2.1346,"c":0.306,"os":1500},{"e":2.136,"c":0.286,"os":1500},{"e":2.1373,"c":0.225,"os":1500},{"e":2.1381,"c":0.362,"os":0},{"e":2.1394,"c":0.225,"os":1500},{"e":2.1408,"c":0.225,"os":1500},{"e":2.1421,"c":0.303,"os":1500},{"e":2.1429,"c":0.145,"os":0},{"e":2.1435,"c":0.258,"os":1500},{"e":2.1448,"c":0.258,"os":1500},{"e":2.1462,"c":0.256,"os":1500},{"e":2.1475,"c":0.256,"os":1500},{"e":2.1481,"c":0.261,"os":0},{"e":2.1495,"c":0.278,"os":1500},{"e":2.1508,"c":0.278,"os":1500},{"e":2.1522,"c":0.256,"os":1500},{"e":2.1523,"c":-0.007,"os":1500},{"e":2.1535,"c":0.246,"os":1500},{"e":2.1537,"c":0.246,"os":0},{"e":2.1548,"c":0.246,"os":1500},{"e":2.1562,"c":0.271,"os":1500},{"e":2.1575,"c":0.271,"os":1500},{"e":2.1589,"c":0.268,"os":1500},{"e":2.1593,"c":0.215,"os":0},{"e":2.1602,"c":0.259,"os":1500},{"e":2.1616,"c":0.259,"os":1500},{"e":2.1629,"c":0.256,"os":1500},{"e":2.1643,"c":0.296,"os":1500},{"e":2.1651,"c":0.246,"os":0},{"e":2.1656,"c":0.298,"os":1500},{"e":2.167,"c":0.298,"os":1500},{"e":2.1683,"c":0.246,"os":1500},{"e":2.1697,"c":0.261,"os":1500},{"e":2.171,"c":0.261,"os":1500},{"e":2.1724,"c":0.276,"os":1500},{"e":2.1737,"c":0.273,"os":1500},{"e":2.1751,"c":0.273,"os":1500},{"e":2.1753,"c":0.23,"os":0},{"e":2.1764,"c":0.294,"os":1500},{"e":2.1777,"c":0.337,"os":1500},{"e":2.1791,"c":0.281,"os":1500},{"e":2.1804,"c":0.281,"os":1500},{"e":2.1808,"c":0.246,"os":0},{"e":2.1818,"c":0.276,"os":1500}
]
},
"spacing":-70,
"resolve":{"scale":{"color":"independent"},"legend":{"color":"independent"}},
"vconcat":[
{"spacing":-2000,
"resolve":{"scale":{"color":"independent"},"legend":{"color":"independent"}},
"hconcat":[
{"width":35,"height":1,"data":{"values":[]},"mark":"point","view":{"stroke":null}},
{"spacing":168,
"resolve":{"scale":{"color":"independent"},"legend":{"color":"independent"}},
"hconcat":[
{"width":1230,"height":1230,
"title":{"text":"Λ\u00a0\u00a0\u00a0\u00a0\u00a0\u00a0\u2004=\u20021.00\u200aeV\u2002(η\u2002=\u2002−0.65)","subtitle":"\u00a0","anchor":"start","frame":"group","dx":153,"baseline":"alphabetic","offset":-160,"subtitleFont":"Liberation Serif","subtitleFontSize":49,"subtitlePadding":-103},
"layer":[
{"data":{"name":"ha"},"mark":{"type":"rect"},
"encoding":{
"x":{"field":"x","type":"ordinal","title":"Atomic Site (Hole)","axis":{"labelAngle":0,"tickSize":12,"labelPadding":8,"titlePadding":10}},
"y":{"field":"y","type":"ordinal","sort":"descending","title":"Atomic Site (Electron)","axis":{"tickSize":12,"labelPadding":12,"titlePadding":6}},
"color":{"field":"v","type":"quantitative","scale":{"domain":[-0.01245,0.00013,0.01271],"range":["#0000ff","#ffffff","#ff0000"],"interpolate":"rgb","clamp":true},
"legend":{"type":"gradient","direction":"vertical","title":"Projected Exciton Weight","gradientLength":1230,"gradientThickness":63,"offset":12,"values":[-0.01245,-0.01,-0.005,0,0.005,0.01,0.01271],"labelExpr":"datum.value > 0.0126 ? 'Spin Up' : datum.value < -0.0124 ? 'Spin Down' : format(datum.value, '.3f')","labelOffset":16,"titleOrient":"right","titlePadding":-45,
"encoding":{"title":{"angle":{"value":-90},"baseline":{"value":"top"}},"labels":{"fontSize":{"condition":{"test":"abs(datum.value) > 0.0124","value":54},"value":49},"dx":{"condition":{"test":"abs(datum.value) > 0.0124","value":0},"value":12}}}}}
}},
{"data":{"values":[{"x":0,"y":19,"t":"(a)"}]},"mark":{"type":"text","align":"right","baseline":"middle","dx":-133,"dy":-2,"font":"Liberation Serif","fontSize":70,"color":"black"},
"encoding":{"x":{"field":"x","type":"ordinal"},"y":{"field":"y","type":"ordinal","sort":"descending"},"text":{"field":"t"}}},
{"data":{"values":[{"x":0,"y":19,"t":"Q=0"}]},"mark":{"type":"text","align":"left","baseline":"alphabetic","dx":181,"dy":-91,"font":"Liberation Serif","fontSize":49,"fontWeight":"bold","fontStyle":"italic","color":"black"},
"encoding":{"x":{"field":"x","type":"ordinal"},"y":{"field":"y","type":"ordinal","sort":"descending"},"text":{"field":"t"}}}
]},
{"width":1230,"height":1230,
"title":{"text":"Λ\u00a0\u00a0\u00a0\u00a0\u00a0\u00a0\u2004=\u20022.04\u200aeV\u2002(η\u2002=\u20020.37)","subtitle":"\u00a0","anchor":"start","frame":"group","dx":178,"baseline":"alphabetic","offset":-160,"subtitleFont":"Liberation Serif","subtitleFontSize":49,"subtitlePadding":-103},
"layer":[
{"data":{"name":"hb"},"mark":{"type":"rect"},
"encoding":{
"x":{"field":"x","type":"ordinal","title":"Atomic Site (Hole)","axis":{"labelAngle":0,"tickSize":12,"labelPadding":8,"titlePadding":10}},
"y":{"field":"y","type":"ordinal","sort":"descending","title":"Atomic Site (Electron)","axis":{"tickSize":12,"labelPadding":12,"titlePadding":6}},
"color":{"field":"v","type":"quantitative","scale":{"domain":[-0.00575,-0.0001,0.00555],"range":["#0000ff","#ffffff","#ff0000"],"interpolate":"rgb","clamp":true},
"legend":{"type":"gradient","direction":"vertical","title":"Projected Exciton Weight","gradientLength":1230,"gradientThickness":60,"offset":12,"values":[-0.00575,-0.004,-0.002,0,0.002,0.004,0.00555],"labelExpr":"datum.value > 0.0055 ? 'Spin Up' : datum.value < -0.0057 ? 'Spin Down' : format(datum.value, '.3f')","labelOffset":16,"titleOrient":"right","titlePadding":-45,
"encoding":{"title":{"angle":{"value":-90},"baseline":{"value":"top"}},"labels":{"fontSize":{"condition":{"test":"datum.value > 0.0055 || datum.value < -0.0057","value":54},"value":49},"dx":{"condition":{"test":"datum.value > 0.0055 || datum.value < -0.0057","value":0},"value":12}}}}}
}},
{"data":{"values":[{"x":0,"y":19,"t":"(b)"}]},"mark":{"type":"text","align":"right","baseline":"middle","dx":-127,"dy":-2,"font":"Liberation Serif","fontSize":70,"color":"black"},
"encoding":{"x":{"field":"x","type":"ordinal"},"y":{"field":"y","type":"ordinal","sort":"descending"},"text":{"field":"t"}}},
{"data":{"values":[{"x":0,"y":19,"t":"Q=0"}]},"mark":{"type":"text","align":"left","baseline":"alphabetic","dx":206,"dy":-91,"font":"Liberation Serif","fontSize":49,"fontWeight":"bold","fontStyle":"italic","color":"black"},
"encoding":{"x":{"field":"x","type":"ordinal"},"y":{"field":"y","type":"ordinal","sort":"descending"},"text":{"field":"t"}}}
]}
]}
]},
{"width":3376,"height":634,
"layer":[
{"mark":{"type":"rule","strokeDash":[14,8],"strokeWidth":3,"color":"black"},"encoding":{"y":{"datum":0,"type":"quantitative"}}},
{"data":{"name":"bars"},"transform":[{"filter":"datum.os > 0"}],"mark":{"type":"rule","strokeWidth":6},
"encoding":{
"x":{"field":"e","type":"quantitative","scale":{"domain":[0.9519,2.1831],"nice":false,"zero":false},"title":"Energy [eV]","axis":{"values":[1.0,1.2,1.4,1.6,1.8,2.0],"format":".1f","tickSize":8,"labelPadding":10,"titlePadding":10}},
"y":{"field":"c","type":"quantitative","scale":{"domain":[-0.75,0.5],"nice":false,"zero":false},"title":"Exciton Character (Q = 0)","axis":{"values":[-0.75,-0.5,-0.25,0,0.25,0.5],"format":".2f","tickSize":8,"labelPadding":12,"titlePadding":10}},
"y2":{"datum":0},
"color":{"field":"os","type":"quantitative","title":"Oscillator Strength","scale":{"type":"linear","domain":[-14000,0,1,140000],"range":["#6b6b6b","#6b6b6b","#0000ff","#ff0000"],"interpolate":"rgb"},
"legend":{"type":"gradient","direction":"vertical","gradientLength":634,"gradientThickness":54,"offset":5,"values":[-7000,140000],"labelExpr":"datum.value < 0 ? '0' : '140000'","labelFont":"DejaVu Serif","labelFontSize":44,"labelOffset":21,"titleOrient":"right","titlePadding":-154,"titleFontSize":48,
"encoding":{"title":{"angle":{"value":-90},"baseline":{"value":"top"}}}}}
}},
{"data":{"name":"bars"},"transform":[{"filter":"datum.os == 0"}],"mark":{"type":"rule","strokeWidth":3.5},
"encoding":{
"x":{"field":"e","type":"quantitative"},
"y":{"field":"c","type":"quantitative"},
"y2":{"datum":0},
"color":{"field":"os","type":"quantitative"}
}},
{"data":{"values":[{"e":1.134,"c":0.203,"t":"dd Exciton"},{"e":1.7775,"c":-0.426,"t":"Charge-Transfer Exciton"}]},"mark":{"type":"text","align":"left","baseline":"alphabetic","fontSize":59,"color":"black"},
"encoding":{"x":{"field":"e","type":"quantitative"},"y":{"field":"c","type":"quantitative"},"text":{"field":"t"}}},
{"data":{"values":[{"e":0.9519,"c":0.5,"t":"(c)"}]},"mark":{"type":"text","align":"left","baseline":"middle","dx":-247,"dy":-73,"font":"Liberation Serif","fontSize":70,"color":"black"},
"encoding":{"x":{"field":"e","type":"quantitative"},"y":{"field":"c","type":"quantitative"},"text":{"field":"t"}}}
]}
]
}
